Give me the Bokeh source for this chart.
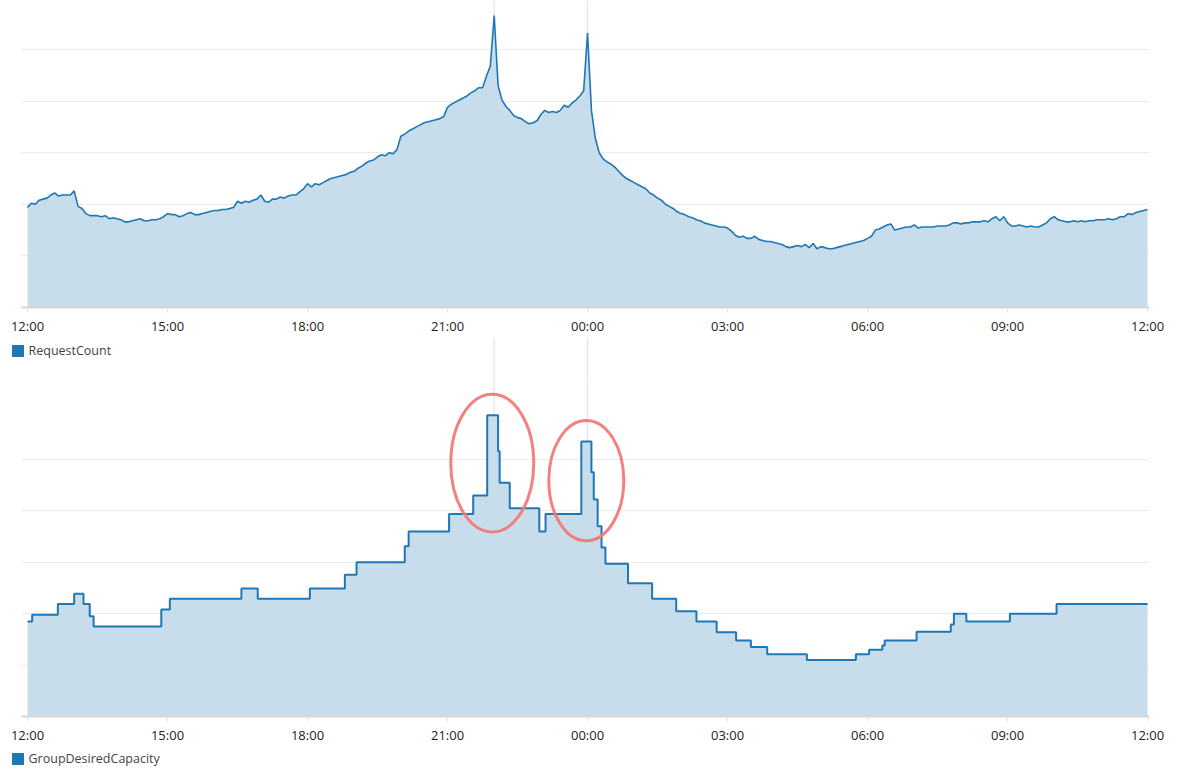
from bokeh.plotting import figure
from bokeh.layouts import column
from bokeh.models import (Range1d, FixedTicker, Grid, Span, Legend, LegendItem,
                          BoxAnnotation)
from bokeh.embed import file_html
from bokeh.resources import INLINE

# ---------------- data ----------------
TICK_MINUTES = [0, 180, 360, 540, 720, 900, 1080, 1260, 1440]
TICK_LABELS = ["12:00", "15:00", "18:00", "21:00", "00:00", "03:00", "06:00", "09:00", "12:00"]

# RequestCount, one sample every 5 minutes from 12:00 to 12:00 next day
REQ_MINUTES = list(range(0, 1441, 5))
REQUEST_COUNT = [
    97, 101, 100, 104, 105, 106, 109, 111, 108, 109, 109, 109,      # 12h
    113, 98, 96, 91, 89, 89, 89, 88, 89, 86, 87, 86,                # 13h
    85, 83, 83, 84, 85, 86, 84, 84, 85, 85, 86, 88,                 # 14h
    91, 90, 90, 88, 89, 91, 92, 90, 90, 91, 92, 93,                 # 15h
    94, 94, 95, 95, 96, 97, 103, 101, 103, 102, 104, 105,           # 16h
    109, 103, 102, 105, 105, 107, 106, 108, 109, 109, 112, 115,     # 17h
    120, 117, 120, 119, 121, 123, 125, 126, 127, 128, 129, 131,     # 18h
    132, 135, 137, 140, 142, 143, 146, 148, 147, 150, 149, 153,     # 19h
    166, 168, 171, 173, 175, 177, 179, 180, 181, 182, 183, 185,     # 20h
    194, 197, 199, 201, 203, 205, 208, 210, 213, 213, 224, 234,     # 21h
    283, 215, 201, 195, 191, 186, 184, 183, 180, 178, 179, 181,     # 22h
    187, 191, 189, 190, 189, 191, 196, 194, 198, 201, 205, 210,     # 23h
    266, 191, 164, 150, 144, 141, 139, 136, 132, 128, 125, 123,     # 00h
    121, 119, 117, 115, 111, 109, 106, 104, 100, 98, 96, 93,        # 01h
    91, 90, 88, 87, 85, 84, 82, 81, 80, 79, 78, 78,                 # 02h
    77, 74, 70, 68, 69, 67, 67, 69, 66, 65, 64, 64,                 # 03h
    63, 62, 61, 59, 58, 59, 60, 59, 61, 58, 62, 57,                 # 04h
    59, 58, 57, 57, 58, 59, 60, 61, 62, 63, 64, 65,                 # 05h
    67, 69, 75, 76, 78, 80, 81, 75, 76, 77, 78, 78,                 # 06h
    80, 77, 78, 78, 78, 78, 79, 79, 79, 80, 82, 82,                 # 07h
    81, 82, 82, 83, 83, 83, 84, 83, 86, 88, 84, 88,                 # 08h
    82, 79, 79, 80, 79, 78, 79, 78, 78, 80, 82, 86,                 # 09h
    88, 85, 84, 83, 83, 84, 83, 84, 83, 84, 84, 85,                 # 10h
    85, 85, 86, 85, 86, 88, 88, 91, 90, 92, 93, 94,                 # 11h
    95,
]
REQ_GRID = [50, 100, 150, 200, 250]

# GroupDesiredCapacity, value holds from each time until the next
CAP_MINUTES = [0, 6, 39, 60, 72, 80, 85, 172, 183, 275, 296, 363, 408, 423, 485, 490,
               542, 573, 591, 605, 607, 620, 658, 666, 712, 725, 728, 733, 738, 743,
               772, 803, 834, 860, 886, 911, 930, 951, 1002, 1065, 1082, 1099, 1102,
               1143, 1187, 1191, 1207, 1263, 1323, 1440]
GROUP_DESIRED_CAPACITY = [18.5, 19.8, 21.9, 23.9, 21.9, 19.5, 17.5, 20.8, 22.9, 24.9, 22.9,
                          24.9, 27.6, 30.0, 33.1, 36.0, 39.4, 43.0, 58.6, 51.6, 45.5, 40.5,
                          36.0, 39.4, 53.5, 47.5, 42.2, 37.0, 32.9, 29.7, 25.9, 22.9, 20.5,
                          18.5, 16.4, 14.8, 13.5, 12.1, 11.0, 12.1, 13.0, 13.8, 14.8, 16.5,
                          17.9, 20.0, 18.5, 20.0, 21.9, 21.9]
CAP_GRID = [10, 20, 30, 40, 50]

# red highlight ellipses on the capacity chart
HL_MINUTES = [597.5, 718.4]
HL_CAPACITY = [49.3, 45.9]
HL_WIDTH_MIN = [106.7, 96.4]
HL_HEIGHT_CAP = [26.8, 23.4]

CROSSHAIR_MINUTES = [600, 720]

# ---------------- layout ----------------
W = 1177
LEFT, RIGHT_PAD = 9, 28    # plot frame spans x = 9 .. 1149
GRID_LEFT_PX = 21          # grid lines / axis line start here
PX_PER_MIN = 46.67 / 60.0
X0_PX = 27                 # pixel of the first 12:00
AXIS_PANEL = 30            # room under each chart for the time axis
TOP_FRAME_H = 307          # top chart frame 0..307
LEG1_H = 43                # legend strip 337..380
BOT_FRAME_H = 336          # bottom chart frame 380..716
LEG2_H = 31                # legend strip 746..777
REQ_STEP_PX = 51.6         # 50 requests per grid step
CAP_STEP_PX = 51.4         # 10 instances per grid step
SWATCH_X = 9.5             # left of the legend swatch box, in page pixels

x_start = -(X0_PX - LEFT) / PX_PER_MIN
x_end = x_start + (W - LEFT - RIGHT_PAD) / PX_PER_MIN
x_grid_start = -(X0_PX - GRID_LEFT_PX) / PX_PER_MIN

BLUE = "#1f77b4"
FILL = "#c7ddec"
FONT = "Open Sans"
GRID_COLOR = "#ebebeb"
CROSS_COLOR = "#e6e6f8"


def add_crosshairs(f):
    for m in CROSSHAIR_MINUTES:
        f.add_layout(Span(location=m, dimension="height", line_color=CROSS_COLOR,
                          line_width=1.5, level="underlay"))


def base(height, bottom_border, y_end, with_axis):
    f = figure(width=W, height=height, x_range=Range1d(x_start, x_end),
               y_range=Range1d(0, y_end), y_axis_location=None,
               x_axis_location="below" if with_axis else None,
               toolbar_location=None, output_backend="svg",
               min_border_left=LEFT, min_border_right=RIGHT_PAD,
               min_border_top=0, min_border_bottom=bottom_border)
    f.outline_line_color = None
    f.background_fill_color = "white"
    f.border_fill_color = "white"
    f.xgrid.visible = False
    f.ygrid.visible = False
    return f


def chart_figure(frame_h, y_end, grid_ticks):
    f = base(frame_h + AXIS_PANEL, AXIS_PANEL, y_end, True)
    f.add_layout(Grid(dimension=1, ticker=FixedTicker(ticks=grid_ticks),
                      grid_line_color=GRID_COLOR, grid_line_width=1))
    # grid lines start a little left of the first sample, not at the frame edge
    f.add_layout(BoxAnnotation(right=x_grid_start, fill_color="white", fill_alpha=1,
                               line_alpha=0, level="underlay"))
    ax = f.xaxis[0]
    ax.bounds = (x_grid_start, x_end)
    ax.ticker = FixedTicker(ticks=TICK_MINUTES, minor_ticks=[])
    ax.major_label_overrides = dict(zip(TICK_MINUTES, TICK_LABELS))
    ax.axis_line_color = "#d6d6d6"
    ax.axis_line_width = 2
    ax.major_tick_line_color = "#e2e2e2"
    ax.major_tick_in = 0
    ax.major_tick_out = 5
    ax.minor_tick_line_color = None
    ax.major_label_text_font = FONT
    ax.major_label_text_font_size = "13px"
    ax.major_label_text_color = "#222222"
    ax.major_label_standoff = 4
    add_crosshairs(f)
    return f


def legend_strip(height, label, top_offset, crosshairs):
    f = base(height, 0, 1, False)
    if crosshairs:
        add_crosshairs(f)
    swatch = f.quad(left=[0], right=[0], top=[0], bottom=[0],
                    fill_color=BLUE, line_color=None)
    leg = Legend(items=[LegendItem(label=label, renderers=[swatch])],
                 location=(SWATCH_X - LEFT, height - top_offset - 15),
                 border_line_color=None, background_fill_alpha=0,
                 padding=0, margin=0, spacing=0,
                 glyph_width=15, glyph_height=15, label_height=15,
                 label_standoff=4, label_text_font=FONT,
                 label_text_font_size="12.5px", label_text_color="#444444")
    f.add_layout(leg)
    return f


# ---- top chart: RequestCount ----
top = chart_figure(TOP_FRAME_H, TOP_FRAME_H * 50 / REQ_STEP_PX, REQ_GRID)
top.varea(x=REQ_MINUTES, y1=0, y2=REQUEST_COUNT, fill_color=FILL)
top.line(REQ_MINUTES, REQUEST_COUNT, line_color=BLUE, line_width=1.6)

leg1 = legend_strip(LEG1_H, "RequestCount", 7, True)

# ---- bottom chart: GroupDesiredCapacity ----
bot = chart_figure(BOT_FRAME_H, BOT_FRAME_H * 10 / CAP_STEP_PX, CAP_GRID)
bot.varea_step(x=CAP_MINUTES, y1=0, y2=GROUP_DESIRED_CAPACITY, step_mode="after",
               fill_color=FILL)
bot.step(CAP_MINUTES, GROUP_DESIRED_CAPACITY, mode="after", line_color=BLUE,
         line_width=2)
bot.ellipse(x=HL_MINUTES, y=HL_CAPACITY, width=HL_WIDTH_MIN, height=HL_HEIGHT_CAP,
            fill_color=None, line_color="#f27a7a", line_width=3, line_alpha=0.95)

leg2 = legend_strip(LEG2_H, "GroupDesiredCapacity", 6, False)

layout = column(top, leg1, bot, leg2, spacing=0)
open("out.html", "w").write(file_html(layout, INLINE))
